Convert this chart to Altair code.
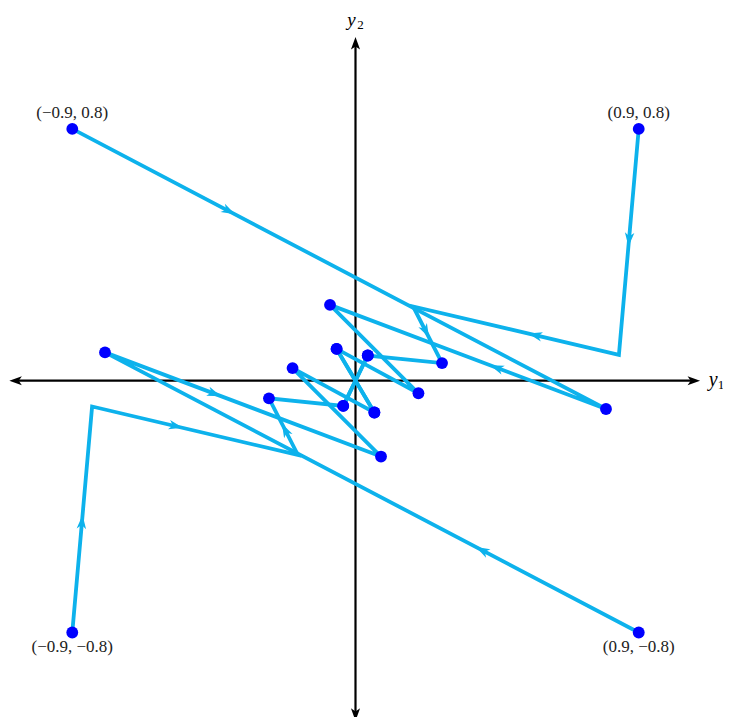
import math
import altair as alt
import pandas as pd

# ---------------- data ----------------
# trajectories in the (y1, y2) plane; 1 = point drawn as a dot
path_a_y1 = [0.900, 0.837, 0.183, 0.275, 0.039, -0.039]
path_a_y2 = [0.800, 0.082, 0.236, 0.056, 0.080, -0.080]
path_a_dot = [1, 0, 0, 1, 1, 1]

path_b_y1 = [-0.900, 0.796, -0.081, 0.200, -0.060, 0.060]
path_b_y2 = [0.800, -0.090, 0.241, -0.040, 0.101, -0.101]
path_b_dot = [1, 1, 1, 1, 1, 1]

path_c_y1 = [-0.900, -0.837, -0.183, -0.275, -0.039, 0.039]
path_c_y2 = [-0.800, -0.082, -0.236, -0.056, -0.080, 0.080]
path_c_dot = [1, 0, 0, 1, 1, 1]

path_d_y1 = [0.900, -0.796, 0.081, -0.200, 0.060, -0.060]
path_d_y2 = [-0.800, 0.090, -0.241, 0.040, -0.101, 0.101]
path_d_dot = [1, 1, 1, 1, 1, 1]

# fraction along each of the first segments where a direction arrow sits
arrow_frac_a = [0.52, 0.44, 0.55]
arrow_frac_b = [0.305, 0.42]
arrow_frac_c = [0.52, 0.44, 0.55]
arrow_frac_d = [0.305, 0.42]

corner_labels = ["(−0.9, 0.8)", "(0.9, 0.8)", "(−0.9, −0.8)", "(0.9, −0.8)"]
corner_y1 = [-0.9, 0.9, -0.9, 0.9]
corner_y2 = [0.8, 0.8, -0.8, -0.8]

axis_y1_range = [-1.100, 1.095]
axis_y2_range = [-1.081, 1.092]

# ---------------- styling ----------------
CYAN = "#0DB2EC"
BLUE = "#0000FF"
PX_PER_UNIT = 314.7
W, H = 715, 709
ORIGIN_X, ORIGIN_Y = 347.5, 372.7   # origin inside the plot area (px)
x_dom = [-ORIGIN_X / PX_PER_UNIT, (W - ORIGIN_X) / PX_PER_UNIT]
y_dom = [(ORIGIN_Y - H) / PX_PER_UNIT, ORIGIN_Y / PX_PER_UNIT]

ARROW = "M0,0 L0.75,2.2 L0,1.6 L-0.75,2.2 Z"
AXIS_ARROW = "M0,0 L0.8,2.2 L0,1.65 L-0.8,2.2 Z"

paths = [
    ("A", path_a_y1, path_a_y2, path_a_dot, arrow_frac_a),
    ("B", path_b_y1, path_b_y2, path_b_dot, arrow_frac_b),
    ("C", path_c_y1, path_c_y2, path_c_dot, arrow_frac_c),
    ("D", path_d_y1, path_d_y2, path_d_dot, arrow_frac_d),
]

rows, arows = [], []
for name, xs, ys, ds, fr in paths:
    for i, (x, y, d) in enumerate(zip(xs, ys, ds)):
        rows.append({"path": name, "step": i, "y1": x, "y2": y, "dot": d})
    for i, t in enumerate(fr):
        dx, dy = xs[i + 1] - xs[i], ys[i + 1] - ys[i]
        arows.append({
            "y1": xs[i] + t * dx,
            "y2": ys[i] + t * dy,
            "angle": math.degrees(math.atan2(dx, dy)) % 360,
        })
df = pd.DataFrame(rows)
arrow_df = pd.DataFrame(arows)

inset = 6 / PX_PER_UNIT
axes_df = pd.DataFrame({
    "y1": [axis_y1_range[0] + inset, 0.0],
    "y1b": [axis_y1_range[1] - inset, 0.0],
    "y2": [0.0, axis_y2_range[0] + inset],
    "y2b": [0.0, axis_y2_range[1] - inset],
})
axis_arrow_df = pd.DataFrame({
    "y1": [axis_y1_range[1], axis_y1_range[0], 0.0, 0.0],
    "y2": [0.0, 0.0, axis_y2_range[1], axis_y2_range[0]],
    "angle": [90, 270, 0, 180],
})
corner_df = pd.DataFrame({"y1": corner_y1, "y2": corner_y2, "label": corner_labels})

xs_ = alt.Scale(domain=x_dom, nice=False, zero=False)
ys_ = alt.Scale(domain=y_dom, nice=False, zero=False)
X = alt.X("y1:Q", scale=xs_, axis=None)
Y = alt.Y("y2:Q", scale=ys_, axis=None)

axes = alt.Chart(axes_df).mark_rule(color="black", strokeWidth=2.2).encode(
    x=X, x2="y1b:Q", y=Y, y2="y2b:Q")
axis_arrows = alt.Chart(axis_arrow_df).mark_point(
    shape=AXIS_ARROW, filled=True, size=130, color="black", opacity=1
).encode(x=X, y=Y, angle=alt.Angle("angle:Q", scale=None))

lines = alt.Chart(df).mark_line(
    color=CYAN, strokeWidth=3.8, strokeJoin="miter", strokeCap="butt"
).encode(x=X, y=Y, detail="path:N", order="step:Q")
arrows = alt.Chart(arrow_df).mark_point(
    shape=ARROW, filled=True, size=160, color=CYAN, opacity=1
).encode(x=X, y=Y, angle=alt.Angle("angle:Q", scale=None))
dots = alt.Chart(df[df["dot"] == 1]).mark_circle(
    size=140, color=BLUE, opacity=1).encode(x=X, y=Y)

font = "Liberation Serif"
top_lab = alt.Chart(corner_df[corner_df["y2"] > 0]).mark_text(
    font=font, fontSize=17, color="#222222", dy=-16
).encode(x=X, y=Y, text="label:N")
bot_lab = alt.Chart(corner_df[corner_df["y2"] < 0]).mark_text(
    font=font, fontSize=17, color="#222222", dy=15
).encode(x=X, y=Y, text="label:N")

y1_lab_df = pd.DataFrame({"y1": [axis_y1_range[1]], "y2": [0.0]})
y2_lab_df = pd.DataFrame({"y1": [0.0], "y2": [axis_y2_range[1]]})
y1_main = alt.Chart(y1_lab_df).mark_text(
    font=font, fontStyle="italic", fontSize=20, color="black", dx=13, dy=-1
).encode(x=X, y=Y, text=alt.value("y"))
y1_sub = alt.Chart(y1_lab_df).mark_text(
    font=font, fontSize=13, color="black", dx=21, dy=4
).encode(x=X, y=Y, text=alt.value("1"))
y2_main = alt.Chart(y2_lab_df).mark_text(
    font=font, fontStyle="italic", fontSize=19, color="black", dx=-4, dy=-17
).encode(x=X, y=Y, text=alt.value("y"))
y2_sub = alt.Chart(y2_lab_df).mark_text(
    font=font, fontSize=13, color="black", dx=5, dy=-12
).encode(x=X, y=Y, text=alt.value("2"))

chart = alt.layer(
    axes, axis_arrows, lines, arrows, dots, top_lab, bot_lab,
    y1_main, y1_sub, y2_main, y2_sub
).properties(width=W, height=H, padding=0, autosize="none").configure_view(stroke=None)

chart.save("out.html", embed_options={"renderer": "svg", "actions": False})
